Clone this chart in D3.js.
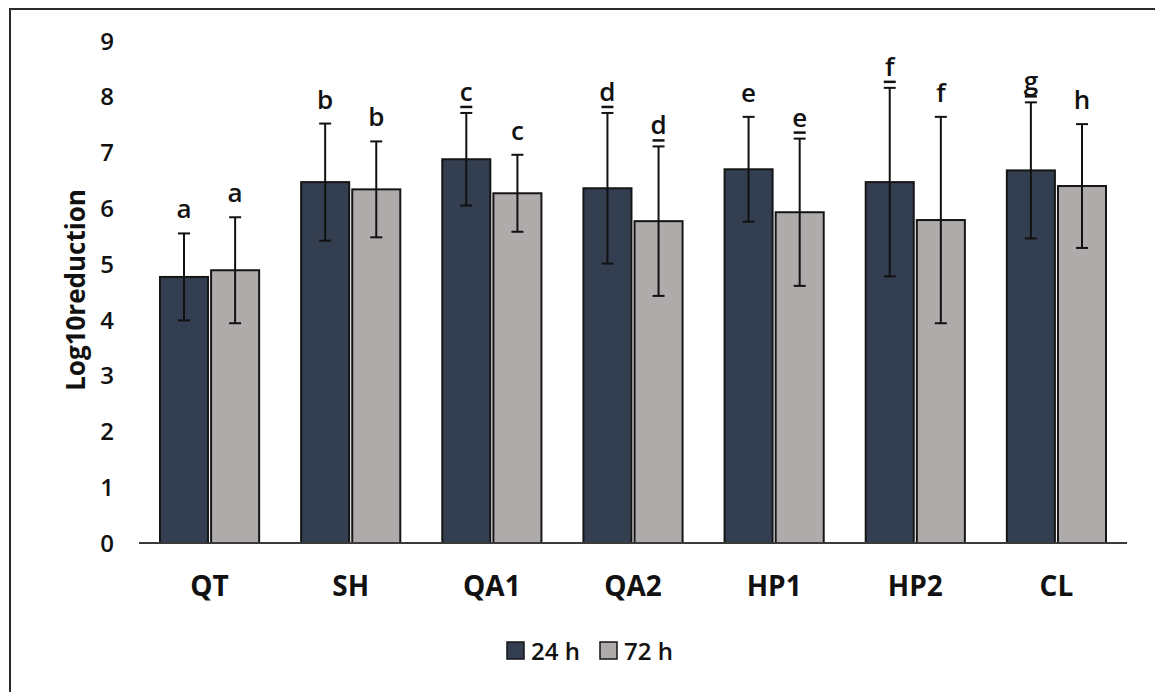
<!DOCTYPE html>
<html>
<head>
<meta charset="utf-8">
<script src="https://cdnjs.cloudflare.com/ajax/libs/d3/7.8.5/d3.min.js"></script>
<style>
  html, body { margin: 0; padding: 0; background: #fff; }
  svg { display: block; }
  text { font-family: "Open Sans", "Noto Sans", sans-serif; fill: #111; }
</style>
</head>
<body>
<svg id="chart" width="1155" height="692"></svg>
<script>
// Treatments and sampling times
const categories = ["QT", "SH", "QA1", "QA2", "HP1", "HP2", "CL"];
const seriesNames = ["24 h", "72 h"];
const seriesColors = ["#333f50", "#afabab"];

// Mean log10 reduction and standard deviation per treatment
const mean24 = [4.77, 6.47, 6.88, 6.36, 6.70, 6.47, 6.68];
const sd24   = [0.78, 1.05, 0.83, 1.35, 0.94, 1.69, 1.22];
const mean72 = [4.89, 6.34, 6.27, 5.77, 5.93, 5.79, 6.40];
const sd72   = [0.95, 0.86, 0.69, 1.34, 1.32, 1.85, 1.11];

// Significance letters (underlined where flagged)
const letters24 = ["a", "b", "c", "d", "e", "f", "g"];
const letters72 = ["a", "b", "c", "d", "e", "f", "h"];
const under24 = [false, false, true, true, false, true, true];
const under72 = [false, false, false, true, true, false, false];

const yTicks = [0, 1, 2, 3, 4, 5, 6, 7, 8, 9];

const rows = [];
categories.forEach((c, i) => {
  rows.push({ cat: c, s: seriesNames[0], k: 0, mean: mean24[i], sd: sd24[i], letter: letters24[i], under: under24[i] });
  rows.push({ cat: c, s: seriesNames[1], k: 1, mean: mean72[i], sd: sd72[i], letter: letters72[i], under: under72[i] });
});

const svg = d3.select("#chart");

// Outer frame
svg.append("rect")
  .attr("x", 10).attr("y", 9).attr("width", 1170).attr("height", 720)
  .attr("fill", "none").attr("stroke", "#2a2a2a").attr("stroke-width", 2);

const x0 = d3.scaleBand().domain(categories).range([139, 1127]).paddingInner(0).paddingOuter(0);
const x1 = d3.scaleBand().domain(seriesNames).range([21, x0.bandwidth() - 21]).paddingInner(0.06);
const y = d3.scaleLinear().domain([0, 9]).range([543, 41]);

// Y tick labels
svg.append("g").selectAll("text").data(yTicks).join("text")
  .attr("x", 114).attr("y", d => y(d)).attr("dy", "0.36em")
  .attr("text-anchor", "end").style("font-size", "24px").style("font-weight", "600")
  .text(d => d);

// Y axis title
svg.append("text")
  .attr("transform", `translate(85,${290}) rotate(-90)`)
  .attr("text-anchor", "middle").style("font-size", "26px").style("font-weight", "bold")
  .text("Log10reduction");

// Bars
const bars = svg.append("g");
bars.selectAll("rect").data(rows).join("rect")
  .attr("x", d => x0(d.cat) + x1(d.s))
  .attr("y", d => y(d.mean))
  .attr("width", x1.bandwidth())
  .attr("height", d => y(0) - y(d.mean))
  .attr("fill", d => seriesColors[d.k])
  .attr("stroke", "#151515").attr("stroke-width", 2);

// Baseline
svg.append("line")
  .attr("x1", x0.range()[0]).attr("x2", x0.range()[1])
  .attr("y1", y(0)).attr("y2", y(0))
  .attr("stroke", "#3a3a3a").attr("stroke-width", 2);

// Error bars
const cx = d => x0(d.cat) + x1(d.s) + x1.bandwidth() / 2;
const err = svg.append("g").attr("stroke", "#111").attr("stroke-width", 2);
err.selectAll("line.v").data(rows).join("line").attr("class", "v")
  .attr("x1", cx).attr("x2", cx)
  .attr("y1", d => y(d.mean + d.sd)).attr("y2", d => y(d.mean - d.sd));
err.selectAll("line.t").data(rows).join("line").attr("class", "t")
  .attr("x1", d => cx(d) - 6).attr("x2", d => cx(d) + 6)
  .attr("y1", d => y(d.mean + d.sd)).attr("y2", d => y(d.mean + d.sd));
err.selectAll("line.b").data(rows).join("line").attr("class", "b")
  .attr("x1", d => cx(d) - 6).attr("x2", d => cx(d) + 6)
  .attr("y1", d => y(d.mean - d.sd)).attr("y2", d => y(d.mean - d.sd));

// Significance letters
const lab = svg.append("g");
lab.selectAll("text").data(rows).join("text")
  .attr("x", cx)
  .attr("y", d => y(d.mean + d.sd) - (d.under ? 12 : 15))
  .attr("text-anchor", "middle").style("font-size", "26px").style("font-weight", "600")
  .text(d => d.letter);
lab.selectAll("line").data(rows.filter(d => d.under)).join("line")
  .attr("x1", d => cx(d) - 6).attr("x2", d => cx(d) + 6)
  .attr("y1", d => y(d.mean + d.sd) - 6).attr("y2", d => y(d.mean + d.sd) - 6)
  .attr("stroke", "#111").attr("stroke-width", 2.5);

// Category labels
svg.append("g").selectAll("text").data(categories).join("text")
  .attr("x", d => x0(d) + x0.bandwidth() / 2)
  .attr("y", 596)
  .attr("text-anchor", "middle").style("font-size", "28px").style("font-weight", "bold")
  .text(d => d);

// Legend
const legendX = [507, 600];
const leg = svg.append("g");
seriesNames.forEach((s, i) => {
  leg.append("rect")
    .attr("x", legendX[i]).attr("y", 642).attr("width", 17).attr("height", 17)
    .attr("fill", seriesColors[i]).attr("stroke", "#151515").attr("stroke-width", 1.5);
  leg.append("text")
    .attr("x", legendX[i] + 24).attr("y", 651).attr("dy", "0.36em")
    .style("font-size", "24px").style("font-weight", "600")
    .text(s);
});
</script>
</body>
</html>
